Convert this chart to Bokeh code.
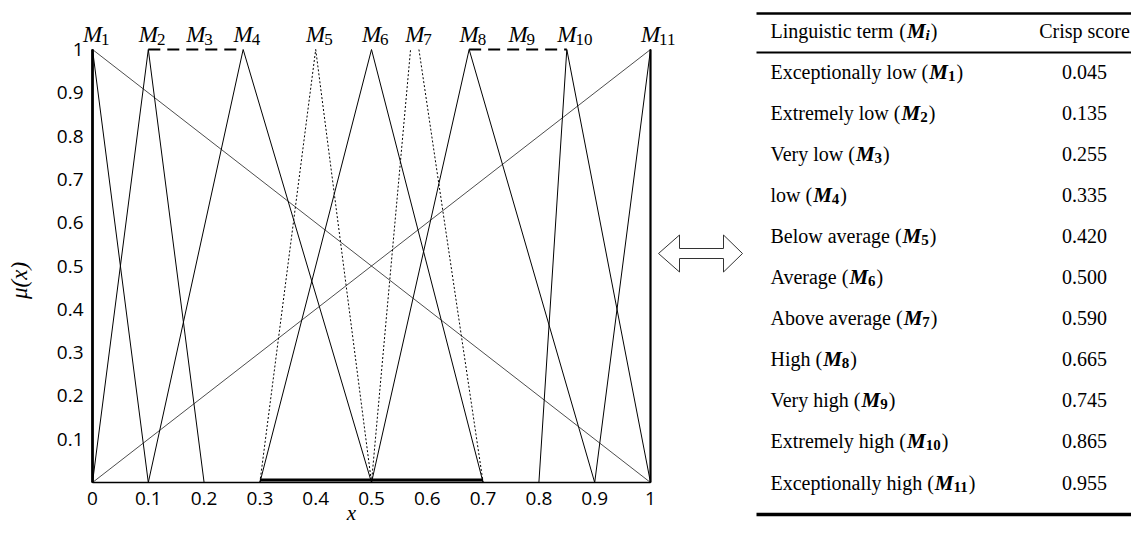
import glob
import math
import os

from bokeh.core.properties import value
from bokeh.embed import file_html
from bokeh.models import ColumnDataSource, FixedTicker, Range1d
from bokeh.plotting import figure
from bokeh.resources import INLINE

# ------------------------------------------------------------------ data
term_ids = ["1", "2", "3", "4", "5", "6", "7", "8", "9", "10", "11"]
terms = ["Exceptionally low", "Extremely low", "Very low", "low", "Below average",
         "Average", "Above average", "High", "Very high", "Extremely high",
         "Exceptionally high"]
crisp_scores = [0.045, 0.135, 0.255, 0.335, 0.420, 0.500, 0.590, 0.665, 0.745, 0.865, 0.955]

# solid triangular memberships (left foot, peak, right foot)
solid_ids = ["1", "2", "4", "6", "8", "10", "11"]
solid_left = [0.0, 0.0, 0.1, 0.3, 0.5, 0.8, 0.9]
solid_peak = [0.0, 0.1, 0.27, 0.5, 0.675, 0.85, 1.0]
solid_right = [0.1, 0.2, 0.5, 0.7, 0.9, 1.0, 1.0]

# dotted memberships (M5, M7)
dotted_ids = ["5", "7"]
dotted_left = [0.3, 0.5]
dotted_peak_l = [0.4, 0.57]
dotted_peak_r = [0.4, 0.585]
dotted_right = [0.5, 0.7]

# dashed plateaus (M3, M9) at mu = 1
plateau_ids = ["3", "9"]
plateau_start = [0.1, 0.675]
plateau_end = [0.27, 0.85]

# long diagonals
diag_x0 = [0.0, 0.0]
diag_y0 = [1.0, 0.0]
diag_x1 = [1.0, 1.0]
diag_y1 = [0.0, 1.0]

# support segment of the average term
support_start = [0.3]
support_end = [0.7]
support_mu = [0.006]

x_ticks = [0, 0.1, 0.2, 0.3, 0.4, 0.5, 0.6, 0.7, 0.8, 0.9, 1]
y_ticks = [0.1, 0.2, 0.3, 0.4, 0.5, 0.6, 0.7, 0.8, 0.9, 1]

# ------------------------------------------------------------------ helpers
def _font_path(fname):
    roots = ["/usr/share/fonts", "/usr/local/share/fonts",
             os.path.expanduser("~/.fonts"), os.path.expanduser("~/.local/share/fonts")]
    for r in roots:
        hits = glob.glob(os.path.join(r, "**", fname), recursive=True)
        if hits:
            return hits[0]
    return None


def text_w(s, fname, size, fallback=0.5):
    try:
        from PIL import ImageFont
        p = _font_path(fname)
        if p:
            return ImageFont.truetype(p, size).getlength(s)
    except Exception:
        pass
    return len(s) * size * fallback


BLACK = "#000000"
SERIF = value("Liberation Serif")

# canvas layout (px)
W, H = 1131, 526
FRAME_LEFT, FRAME_RIGHT, FRAME_TOP, FRAME_BOTTOM = 92, 650, 49, 482
FW, FH = FRAME_RIGHT - FRAME_LEFT, FRAME_BOTTOM - FRAME_TOP


def dx(px):
    return (px - FRAME_LEFT) / FW


def dy(py):
    return (FRAME_BOTTOM - py) / FH


# ------------------------------------------------------------------ plot
p = figure(width=W, height=H, x_range=Range1d(0, 1), y_range=Range1d(0, 1),
           output_backend="svg", toolbar_location=None,
           min_border_left=FRAME_LEFT, min_border_right=W - FRAME_RIGHT,
           min_border_top=FRAME_TOP, min_border_bottom=H - FRAME_BOTTOM)
p.grid.visible = False
p.outline_line_color = None
p.background_fill_color = "white"
p.border_fill_color = "white"

for ax, ticks, lw, so in ((p.xaxis, x_ticks, 1.5, 9), (p.yaxis, y_ticks, 2.5, 9)):
    ax.ticker = FixedTicker(ticks=ticks)
    ax.major_label_overrides = {t: f"{t:g}" for t in ticks}
    ax.major_tick_line_color = None
    ax.minor_tick_line_color = None
    ax.major_tick_in = 0
    ax.major_tick_out = 0
    ax.axis_line_color = BLACK
    ax.axis_line_width = lw
    ax.major_label_standoff = so
    ax.major_label_text_font = "Open Sans"
    ax.major_label_text_font_size = "19px"
    ax.major_label_text_color = BLACK

R = []
# solid triangles
solid_src = ColumnDataSource(dict(
    xs=[[l, c, r] for l, c, r in zip(solid_left, solid_peak, solid_right)],
    ys=[[0, 1, 0] for _ in solid_ids]))
R.append(p.multi_line("xs", "ys", source=solid_src, line_color=BLACK, line_width=1))

# vertical edges (where a foot coincides with the peak)
vx = [c for l, c, r in zip(solid_left, solid_peak, solid_right) if l == c or r == c]
R.append(p.segment(x0=vx, y0=[0] * len(vx), x1=vx, y1=[1] * len(vx),
                   line_color=BLACK, line_width=2.2))

# dotted triangles
dot_src = ColumnDataSource(dict(
    xs=[[l, a] for l, a in zip(dotted_left, dotted_peak_l)] + [[b, r] for b, r in zip(dotted_peak_r, dotted_right)],
    ys=[[0, 1] for _ in dotted_ids] + [[1, 0] for _ in dotted_ids]))
R.append(p.multi_line("xs", "ys", source=dot_src, line_color=BLACK, line_width=1, line_dash="2 2"))

# dashed plateaus
R.append(p.segment(x0=plateau_start, y0=[1] * len(plateau_ids), x1=plateau_end,
                   y1=[1] * len(plateau_ids), line_color=BLACK, line_width=2, line_dash="12 7"))

# diagonals
R.append(p.segment(x0=diag_x0, y0=diag_y0, x1=diag_x1, y1=diag_y1, line_color=BLACK, line_width=0.7))

# support
R.append(p.segment(x0=support_start, y0=support_mu, x1=support_end, y1=support_mu,
                   line_color=BLACK, line_width=3))

# term labels above the peaks
peak_of = {i: c for i, c in zip(solid_ids, solid_peak)}
for i, a, b in zip(dotted_ids, dotted_peak_l, dotted_peak_r):
    peak_of[i] = (a + b) / 2
for i, a, b in zip(plateau_ids, plateau_start, plateau_end):
    peak_of[i] = (a + b) / 2
label_x = [peak_of[i] for i in term_ids]
wM = text_w("M", "LiberationSerif-Italic.ttf", 23)
n = len(term_ids)
lab_src = ColumnDataSource(dict(x=label_x, ym=[dy(34)] * n, ys=[dy(38.5)] * n,
                                m=["M"] * n, sub=term_ids))
R.append(p.text(x="x", y="ym", text="m", source=lab_src, text_font=SERIF, text_font_style="italic",
                text_font_size="23px", text_color=BLACK, text_align="center",
                text_baseline="middle"))
R.append(p.text(x="x", y="ys", text="sub", source=lab_src, text_font=SERIF, text_font_size="17px",
                text_color=BLACK, text_align="left", text_baseline="middle",
                x_offset=wM / 2 - 1))

# axis titles
R.append(p.text(x=[dx(351)], y=[dy(512)], text=["x"], text_font=SERIF, text_font_style="italic",
                text_font_size="21px", text_color=BLACK, text_align="center",
                text_baseline="middle"))
R.append(p.text(x=[dx(19)], y=[dy(280)], text=["\u03bc(x)"], text_font=SERIF,
                text_font_style="italic", text_font_size="23px", text_color=BLACK,
                text_align="center", text_baseline="middle", angle=math.pi / 2))

# double arrow
cy, tipL, baseL, baseR, tipR, hh, sh = 253, 658, 679, 723, 742, 18.5, 5
arrow_px = [(tipL, cy), (baseL, cy - hh), (baseL, cy - sh), (baseR, cy - sh), (baseR, cy - hh),
            (tipR, cy), (baseR, cy + hh), (baseR, cy + sh), (baseL, cy + sh), (baseL, cy + hh)]
R.append(p.patch(x=[dx(a) for a, _ in arrow_px], y=[dy(b) for _, b in arrow_px],
                 fill_color="white", line_color="#333333", line_width=1))

# ------------------------------------------------------------------ table
TX, SCORE_X, RULE_X0, RULE_X1 = 770, 1084, 756, W
FS, FS_M, FS_SUB = 20, 21, 15
REG, BI, BOLD = "LiberationSerif-Regular.ttf", "LiberationSerif-BoldItalic.ttf", "LiberationSerif-Bold.ttf"

rule_y = [13, 52, 514]
R.append(p.segment(x0=[dx(RULE_X0)] * 3, x1=[dx(RULE_X1)] * 3, y0=[dy(v) for v in rule_y],
                   y1=[dy(v) for v in rule_y], line_color=BLACK, line_width=[2.5, 2, 3.5]))


def put(xpx, ypx, txt, size, style="normal", align="left"):
    R.append(p.text(x=[dx(v) for v in xpx], y=[dy(v) for v in ypx], text=txt, text_font=SERIF,
                    text_font_style=style, text_font_size=f"{size}px", text_color=BLACK,
                    text_align=align, text_baseline="middle"))


# header (y = visual centre)
hdr_y = 30
w_lt = text_w("Linguistic term", REG, FS)
x_par = TX + w_lt + 6
w_par = text_w("(", REG, FS)
w_hm = text_w("M", BI, FS_M)
w_hi = text_w("i", BI, FS_SUB)
put([TX, x_par], [hdr_y, hdr_y], ["Linguistic term", "("], FS)
put([x_par + w_par + 1], [hdr_y], ["M"], FS_M, "bold italic")
put([x_par + w_par + 1 + w_hm], [hdr_y + 4], ["i"], FS_SUB, "bold italic")
put([x_par + w_par + 2 + w_hm + w_hi], [hdr_y], [")"], FS)
put([SCORE_X], [hdr_y], ["Crisp score"], FS, align="center")

# rows (y = visual centre)
row_y = [71 + 41.1 * k for k in range(len(terms))]
prefix = [f"{s} (" for s in terms]
w_pre = [text_w(s, REG, FS) for s in prefix]
w_sub = [text_w(s, BOLD, FS_SUB) for s in term_ids]
xm = [TX + w + 1 for w in w_pre]
xsub = [x + w_hm for x in xm]
xc = [x + w + 1 for x, w in zip(xsub, w_sub)]
put([TX] * len(terms), row_y, prefix, FS)
put(xm, row_y, ["M"] * len(terms), FS_M, "bold italic")
put(xsub, [y + 4 for y in row_y], term_ids, FS_SUB, "bold")
put(xc, row_y, [")"] * len(terms), FS)
put([SCORE_X] * len(terms), row_y, [f"{v:.3f}" for v in crisp_scores], FS, align="center")

for r in R:
    r.level = "overlay"

open("out.html", "w").write(file_html(p, INLINE))
